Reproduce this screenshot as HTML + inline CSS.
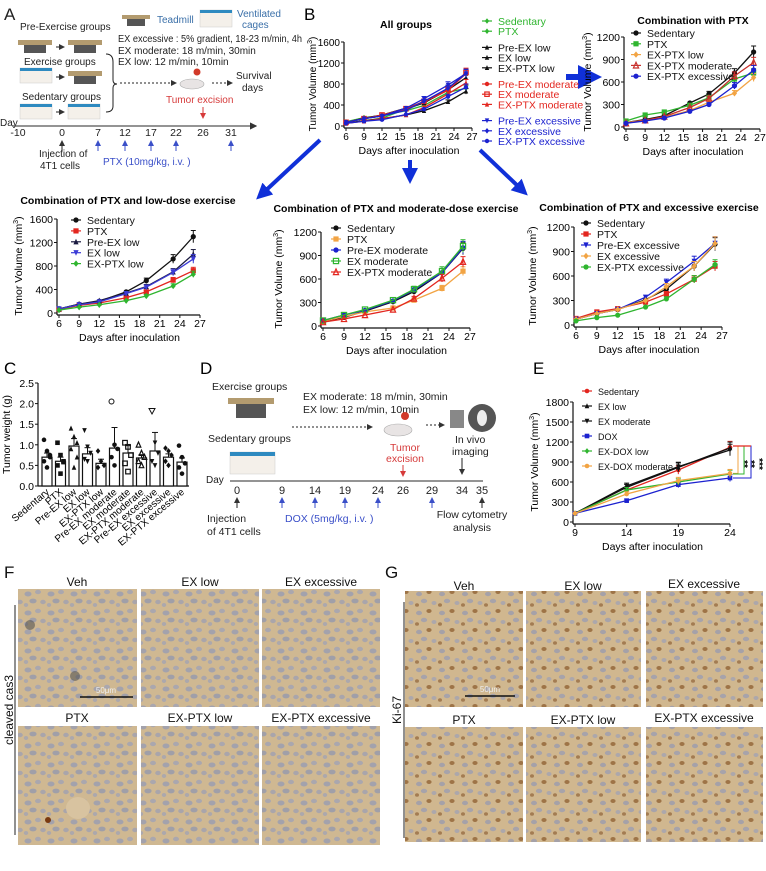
<!DOCTYPE html>
<html><head><meta charset="utf-8">
<style>
html,body{margin:0;padding:0;background:#fff;}
svg{display:block;font-family:"Liberation Sans",Arial,sans-serif;}
</style></head>
<body>
<svg id="fig" width="766" height="871" viewBox="0 0 766 871" xmlns="http://www.w3.org/2000/svg">
<defs>
<pattern id="cellsF" width="23" height="19" patternUnits="userSpaceOnUse">
<rect width="23" height="19" fill="#cfb892"/>
<ellipse cx="5" cy="5" rx="3.5" ry="2.5" fill="#a3a2ac"/>
<ellipse cx="15" cy="3" rx="3" ry="2.2" fill="#aaa7ae"/>
<ellipse cx="10" cy="12" rx="3.6" ry="2.4" fill="#a09fa8"/>
<ellipse cx="20" cy="13" rx="2.8" ry="2.2" fill="#a9a5ab"/>
<ellipse cx="3" cy="16" rx="2.2" ry="2" fill="#aca8ac"/>
</pattern>
<pattern id="cellsG" width="23" height="19" patternUnits="userSpaceOnUse">
<rect width="23" height="19" fill="#d0b78f"/>
<ellipse cx="5" cy="5" rx="3" ry="2.2" fill="#a5a1a8"/>
<ellipse cx="15" cy="3" rx="2.6" ry="2" fill="#9e7447"/>
<ellipse cx="10" cy="12" rx="3.2" ry="2.2" fill="#a7a3aa"/>
<ellipse cx="20" cy="14" rx="2.5" ry="2" fill="#aca7ab"/>
<ellipse cx="3" cy="16" rx="2" ry="1.8" fill="#a37c52"/>
</pattern>
<marker id="ah" markerWidth="6" markerHeight="6" refX="5" refY="3" orient="auto"><path d="M0,0 L6,3 L0,6 z" fill="#333"/></marker>
<marker id="ahB" markerWidth="6" markerHeight="6" refX="5" refY="3" orient="auto"><path d="M0,0 L6,3 L0,6 z" fill="#3a4fc8"/></marker>
<marker id="ahR" markerWidth="6" markerHeight="6" refX="5" refY="3" orient="auto"><path d="M0,0 L6,3 L0,6 z" fill="#d63a3a"/></marker>
<marker id="bigB" markerWidth="4" markerHeight="4" refX="2" refY="2" orient="auto"><path d="M0,0 L4,2 L0,4 z" fill="#1030d8"/></marker>
</defs>

<!-- ============ PANEL A ============ -->
<g font-size="10" fill="#222">
<text x="4" y="20" font-size="17">A</text>
<text x="20" y="30">Pre-Exercise groups</text>
<text x="24" y="65">Exercise groups</text>
<text x="22" y="100">Sedentary groups</text>
<g>
<rect x="18" y="40" width="34" height="5" fill="#b39b6f"/><rect x="24" y="45" width="22" height="8" fill="#555"/>
<rect x="68" y="40" width="34" height="5" fill="#b39b6f"/><rect x="74" y="45" width="22" height="8" fill="#555"/>
<rect x="68" y="71" width="34" height="5" fill="#b39b6f"/><rect x="74" y="76" width="22" height="8" fill="#555"/>
<rect x="122" y="15" width="28" height="4" fill="#b39b6f"/><rect x="127" y="19" width="18" height="7" fill="#555"/>
<rect x="228" y="398" width="46" height="6" fill="#b39b6f"/><rect x="236" y="404" width="30" height="14" fill="#555"/>
</g>
<g>
<rect x="20" y="68" width="32" height="15" fill="#f4f0ea" stroke="#ccc" stroke-width="0.5"/><rect x="20" y="68" width="32" height="3" fill="#2e8ac0"/>
<rect x="20" y="104" width="32" height="15" fill="#f4f0ea" stroke="#ccc" stroke-width="0.5"/><rect x="20" y="104" width="32" height="3" fill="#2e8ac0"/>
<rect x="68" y="104" width="32" height="15" fill="#f4f0ea" stroke="#ccc" stroke-width="0.5"/><rect x="68" y="104" width="32" height="3" fill="#2e8ac0"/>
<rect x="200" y="10" width="32" height="17" fill="#f4f0ea" stroke="#ccc" stroke-width="0.5"/><rect x="200" y="10" width="32" height="3" fill="#2e8ac0"/>
<rect x="230" y="452" width="45" height="22" fill="#f4f0ea" stroke="#ccc" stroke-width="0.5"/><rect x="230" y="452" width="45" height="4" fill="#2e8ac0"/>
</g>
<g stroke="#222" stroke-width="1" fill="none">
<line x1="56" y1="47" x2="64" y2="47" marker-end="url(#ah)"/>
<line x1="56" y1="77" x2="64" y2="77" marker-end="url(#ah)"/>
<line x1="56" y1="112" x2="64" y2="112" marker-end="url(#ah)"/>
<path d="M106,54 Q113,54 113,62 L113,80 Q113,84 117,84 Q113,84 113,88 L113,106 Q113,112 106,112"/>
<line x1="120" y1="83" x2="176" y2="83" stroke-dasharray="2,2" marker-end="url(#ah)"/>
<line x1="212" y1="83" x2="232" y2="83" stroke-dasharray="2,2" marker-end="url(#ah)"/>
</g>
<text x="157" y="23" fill="#3a6fa8">Teadmill</text>
<text x="237" y="17" fill="#3a6fa8">Ventilated</text>
<text x="242" y="28" fill="#3a6fa8">cages</text>
<text x="118" y="42" textLength="184" lengthAdjust="spacingAndGlyphs">EX excessive : 5% gradient, 18-23 m/min, 4h</text>
<text x="118" y="54">EX moderate: 18 m/min, 30min</text>
<text x="118" y="65">EX low: 12 m/min, 10min</text>
<g><ellipse cx="192" cy="84" rx="12" ry="5" fill="#e8e4e4" stroke="#aaa" stroke-width="0.6"/><circle cx="197" cy="72" r="3.5" fill="#d23a2a"/></g>
<text x="236" y="79">Survival</text>
<text x="242" y="91">days</text>
<text x="166" y="103" fill="#d63a3a">Tumor excision</text>
<line x1="203" y1="107" x2="203" y2="118" stroke="#d63a3a" marker-end="url(#ahR)"/>
<text x="0" y="126" font-size="10">Day</text>
<line x1="12" y1="126" x2="256" y2="126" stroke="#555" stroke-width="1.2" marker-end="url(#ah)"/>
<g font-size="10.5" text-anchor="middle">
<text x="18" y="136">-10</text><text x="62" y="136">0</text><text x="98" y="136">7</text><text x="125" y="136">12</text><text x="151" y="136">17</text><text x="176" y="136">22</text><text x="203" y="136">26</text><text x="231" y="136">31</text>
</g>
<g stroke-width="1">
<line x1="62" y1="151" x2="62" y2="141" stroke="#222" marker-end="url(#ah)"/>
<line x1="98" y1="151" x2="98" y2="141" stroke="#3a4fc8" marker-end="url(#ahB)"/>
<line x1="125" y1="151" x2="125" y2="141" stroke="#3a4fc8" marker-end="url(#ahB)"/>
<line x1="151" y1="151" x2="151" y2="141" stroke="#3a4fc8" marker-end="url(#ahB)"/>
<line x1="176" y1="151" x2="176" y2="141" stroke="#3a4fc8" marker-end="url(#ahB)"/>
<line x1="231" y1="151" x2="231" y2="141" stroke="#3a4fc8" marker-end="url(#ahB)"/>
</g>
<text x="39" y="157">Injection of</text>
<text x="40" y="169">4T1 cells</text>
<text x="103" y="165" fill="#3a4fc8">PTX (10mg/kg, i.v. )</text>
</g>

<text x="304" y="20" font-size="17">B</text>
<text x="4" y="374" font-size="17">C</text>
<text x="200" y="374" font-size="17">D</text>
<text x="533" y="374" font-size="17">E</text>

<g stroke="#1030d8" stroke-width="4">
<line x1="320" y1="140" x2="262" y2="194" marker-end="url(#bigB)"/>
<line x1="410" y1="160" x2="410" y2="176" marker-end="url(#bigB)"/>
<line x1="480" y1="150" x2="522" y2="190" marker-end="url(#bigB)"/>
<line x1="566" y1="77" x2="590" y2="77" stroke-width="6" marker-end="url(#bigB)"/>
</g>

<!-- ============ PANEL D ============ -->
<g font-size="10.5" fill="#222">
<text x="212" y="390">Exercise groups</text>
<text x="208" y="442">Sedentary groups</text>
<text x="303" y="400">EX moderate: 18 m/min, 30min</text>
<text x="303" y="413">EX low: 12 m/min, 10min</text>
<line x1="292" y1="427" x2="372" y2="427" stroke="#222" stroke-dasharray="2,2" marker-end="url(#ah)"/>
<ellipse cx="398" cy="430" rx="14" ry="6" fill="#e8e4e4" stroke="#aaa" stroke-width="0.6"/><circle cx="405" cy="416" r="4" fill="#d23a2a"/>
<line x1="426" y1="425" x2="444" y2="425" stroke="#222" stroke-dasharray="2,2" marker-end="url(#ah)"/>
<rect x="450" y="410" width="14" height="18" fill="#888"/>
<circle cx="482" cy="418" r="14" fill="#555"/><ellipse cx="482" cy="418" rx="5" ry="8" fill="#eee"/>
<text x="455" y="443">In vivo</text>
<text x="452" y="455">imaging</text>
<text x="405" y="451" fill="#d63a3a" text-anchor="middle">Tumor</text>
<text x="405" y="462" fill="#d63a3a" text-anchor="middle">excision</text>
<line x1="403" y1="465" x2="403" y2="476" stroke="#d63a3a" marker-end="url(#ahR)"/>
<line x1="462" y1="458" x2="462" y2="474" stroke="#222" marker-end="url(#ah)"/>
<text x="206" y="483" font-size="10">Day</text>
<line x1="230" y1="481" x2="483" y2="481" stroke="#555" stroke-width="1.2"/>
<g font-size="11" text-anchor="middle">
<text x="237" y="494">0</text><text x="282" y="494">9</text><text x="315" y="494">14</text><text x="345" y="494">19</text><text x="378" y="494">24</text><text x="403" y="494">26</text><text x="432" y="494">29</text><text x="462" y="494">34</text><text x="482" y="494">35</text>
</g>
<line x1="237" y1="508" x2="237" y2="498" stroke="#222" marker-end="url(#ah)"/>
<line x1="282" y1="508" x2="282" y2="498" stroke="#3a4fc8" marker-end="url(#ahB)"/>
<line x1="315" y1="508" x2="315" y2="498" stroke="#3a4fc8" marker-end="url(#ahB)"/>
<line x1="345" y1="508" x2="345" y2="498" stroke="#3a4fc8" marker-end="url(#ahB)"/>
<line x1="378" y1="508" x2="378" y2="498" stroke="#3a4fc8" marker-end="url(#ahB)"/>
<line x1="432" y1="508" x2="432" y2="498" stroke="#3a4fc8" marker-end="url(#ahB)"/>
<line x1="482" y1="508" x2="482" y2="498" stroke="#222" marker-end="url(#ah)"/>
<text x="207" y="522">Injection</text>
<text x="207" y="535">of 4T1 cells</text>
<text x="285" y="522" fill="#3a4fc8">DOX (5mg/kg, i.v. )</text>
<text x="472" y="518" text-anchor="middle">Flow cytometry</text>
<text x="472" y="531" text-anchor="middle">analysis</text>
</g>

<!-- ============ PANELS F/G ============ -->
<g font-size="12" fill="#111">
<text x="4" y="578" font-size="17">F</text>
<text x="77" y="586" text-anchor="middle">Veh</text><text x="200" y="586" text-anchor="middle">EX low</text><text x="321" y="586" text-anchor="middle">EX excessive</text>
<text x="77" y="722" text-anchor="middle">PTX</text><text x="200" y="722" text-anchor="middle">EX-PTX low</text><text x="321" y="722" text-anchor="middle">EX-PTX excessive</text>
<rect x="18" y="589" width="119" height="118" fill="url(#cellsF)"/>
<rect x="141" y="589" width="118" height="118" fill="url(#cellsF)"/>
<rect x="262" y="589" width="118" height="118" fill="url(#cellsF)"/>
<rect x="18" y="726" width="119" height="119" fill="url(#cellsF)"/>
<rect x="141" y="726" width="118" height="119" fill="url(#cellsF)"/>
<rect x="262" y="726" width="118" height="119" fill="url(#cellsF)"/>
<circle cx="30" cy="625" r="5" fill="#555" opacity="0.6"/><circle cx="75" cy="676" r="5" fill="#555" opacity="0.6"/>
<ellipse cx="78" cy="808" rx="12" ry="11" fill="#d8c3a0"/><circle cx="48" cy="820" r="3" fill="#7a3a10"/>
<line x1="80" y1="697" x2="133" y2="697" stroke="#111" stroke-width="1.5"/><text x="106" y="693" font-size="8" text-anchor="middle" fill="#eee">50μm</text>
<line x1="15" y1="605" x2="15" y2="835" stroke="#222"/>
<text transform="translate(13,710) rotate(-90)" text-anchor="middle" font-size="12">cleaved cas3</text>
</g>
<g font-size="12" fill="#111">
<text x="385" y="578" font-size="17">G</text>
<text x="464" y="590" text-anchor="middle">Veh</text><text x="583" y="590" text-anchor="middle">EX low</text><text x="704" y="588" text-anchor="middle">EX excessive</text>
<text x="464" y="724" text-anchor="middle">PTX</text><text x="583" y="724" text-anchor="middle">EX-PTX low</text><text x="704" y="722" text-anchor="middle">EX-PTX excessive</text>
<rect x="405" y="591" width="118" height="116" fill="url(#cellsG)"/>
<rect x="526" y="591" width="115" height="116" fill="url(#cellsG)"/>
<rect x="646" y="591" width="117" height="116" fill="url(#cellsG)"/>
<rect x="405" y="727" width="118" height="115" fill="url(#cellsG)"/>
<rect x="526" y="727" width="115" height="115" fill="url(#cellsG)"/>
<rect x="646" y="727" width="117" height="115" fill="url(#cellsG)"/>
<line x1="465" y1="696" x2="515" y2="696" stroke="#111" stroke-width="1.5"/><text x="490" y="692" font-size="8" text-anchor="middle" fill="#eee">50μm</text>
<line x1="404" y1="602" x2="404" y2="838" stroke="#222"/>
<text transform="translate(401,710) rotate(-90)" text-anchor="middle" font-size="12">Ki-67</text>
</g>

<g id="charts"></g>
</svg>

<script>
// ---------- data ----------
var days = [6, 9, 12, 16, 19, 23, 26];
var sedentary = [60, 100, 150, 320, 440, 720, 1000];
var ptx = [80, 160, 200, 290, 390, 640, 720];
var exPtxLow = [60, 90, 130, 220, 330, 450, 660];
var exPtxModerate = [50, 90, 140, 260, 380, 680, 860];
var exPtxExcessive = [50, 80, 120, 210, 300, 550, 760];

var lowSedentary = [70, 150, 200, 360, 550, 920, 1300];
var lowPtx = [60, 130, 170, 260, 360, 560, 720];
var preExLow = [70, 150, 210, 340, 450, 700, 1000];
var exLow = [70, 140, 190, 330, 440, 690, 920];
var lowExPtx = [50, 100, 140, 210, 290, 460, 660];

var modSedentary = [60, 110, 190, 310, 440, 680, 990];
var modPtx = [60, 120, 180, 230, 330, 480, 700];
var preExModerate = [70, 140, 200, 320, 460, 680, 1000];
var exModerate = [70, 140, 210, 330, 470, 700, 1020];
var modExPtx = [50, 90, 140, 210, 350, 610, 820];

var excSedentary = [70, 140, 190, 310, 440, 720, 990];
var excPtx = [80, 160, 200, 280, 380, 560, 720];
var preExExcessive = [70, 140, 190, 340, 520, 780, 1000];
var exExcessive = [70, 140, 190, 300, 470, 720, 1000];
var excExPtx = [50, 90, 120, 220, 320, 560, 740];

var eDays = [9, 14, 19, 24];
var eSedentary = [130, 480, 780, 1120];
var eExLow = [130, 520, 820, 1110];
var eExModerate = [130, 540, 830, 1080];
var eDox = [130, 320, 560, 660];
var eExDoxLow = [130, 480, 600, 720];
var eExDoxModerate = [130, 420, 620, 730];

var weightGroups = ["Sedentary", "PTX", "Pre-EX low", "EX low", "EX-PTX low", "Pre-EX moderate", "EX moderate", "EX-PTX moderate", "Pre-EX excessive", "EX excessive", "EX-PTX excessive"];
var weightMeans = [0.70, 0.60, 0.97, 0.78, 0.55, 0.92, 0.80, 0.68, 0.85, 0.70, 0.58];
var weightErr = [0.10, 0.10, 0.18, 0.15, 0.10, 0.50, 0.18, 0.08, 0.45, 0.08, 0.10];
var weightPoints = [
 [1.12, 0.85, 0.7, 0.6, 0.45, 0.75],
 [1.05, 0.75, 0.6, 0.5, 0.3, 0.58],
 [1.4, 1.2, 1.05, 0.9, 0.45, 0.7],
 [1.35, 0.95, 0.8, 0.65, 0.6],
 [0.85, 0.6, 0.5, 0.45],
 [2.05, 1.0, 0.9, 0.7, 0.5],
 [1.05, 0.95, 0.75, 0.55, 0.35],
 [1.0, 0.8, 0.7, 0.6, 0.5],
 [1.82, 1.05, 0.8, 0.6, 0.5],
 [0.92, 0.85, 0.75, 0.6, 0.5],
 [0.98, 0.7, 0.55, 0.45, 0.3]
];

var ticks1600 = [0, 400, 800, 1200, 1600];
var ticks1200 = [0, 300, 600, 900, 1200];
var ticks1800 = [0, 300, 600, 900, 1200, 1500, 1800];
var dayTicks = [6, 9, 12, 15, 18, 21, 24, 27];
var eDayTicks = [9, 14, 19, 24];
var weightTicks = [0.0, 0.5, 1.0, 1.5, 2.0, 2.5];

// ---------- drawing helpers ----------
var NS = "http://www.w3.org/2000/svg";
var root = document.getElementById("charts");
function mk(tag, attrs, parent) {
  var e = document.createElementNS(NS, tag);
  for (var k in attrs) e.setAttribute(k, attrs[k]);
  (parent || root).appendChild(e);
  return e;
}
function marker(g, shape, cx, cy, color, s) {
  s = s || 2.6;
  var m;
  if (shape === "circle") m = mk("circle", {cx: cx, cy: cy, r: s, fill: color}, g);
  else if (shape === "square") m = mk("rect", {x: cx - s, y: cy - s, width: 2 * s, height: 2 * s, fill: color}, g);
  else if (shape === "osquare") m = mk("rect", {x: cx - s, y: cy - s, width: 2 * s, height: 2 * s, fill: "none", stroke: color, "stroke-width": 1.2}, g);
  else if (shape === "tri") m = mk("path", {d: "M" + cx + "," + (cy - s - 0.5) + "L" + (cx + s) + "," + (cy + s) + "L" + (cx - s) + "," + (cy + s) + "Z", fill: color}, g);
  else if (shape === "otri") m = mk("path", {d: "M" + cx + "," + (cy - s - 0.5) + "L" + (cx + s) + "," + (cy + s) + "L" + (cx - s) + "," + (cy + s) + "Z", fill: "none", stroke: color, "stroke-width": 1.2}, g);
  else if (shape === "tridown") m = mk("path", {d: "M" + cx + "," + (cy + s + 0.5) + "L" + (cx + s) + "," + (cy - s) + "L" + (cx - s) + "," + (cy - s) + "Z", fill: color}, g);
  else m = mk("path", {d: "M" + cx + "," + (cy - s - 0.6) + "L" + (cx + s) + "," + cy + "L" + cx + "," + (cy + s + 0.6) + "L" + (cx - s) + "," + cy + "Z", fill: color}, g);
  
  
  return m;
}

function lineChart(c) {
  var g = mk("g", {});
  
  
  var tf = c.tickFont || 10.5;
  var sx = function (v) { return c.x0 + (v - c.xmin) / (c.xmax - c.xmin) * (c.x1 - c.x0); };
  var sy = function (v) { return c.y0 - (v - c.ymin) / (c.ymax - c.ymin) * (c.y0 - c.y1); };
  var ya = mk("line", {x1: c.x0 - 2, y1: c.y0 + 2, x2: c.x0 - 2, y2: c.y1, stroke: "#111", "stroke-width": 1.2}, g);
  
  
  var xa = mk("line", {x1: c.x0 - 2, y1: c.y0 + 2, x2: c.x1, y2: c.y0 + 2, stroke: "#111", "stroke-width": 1.2}, g);
  
  
  c.yticks.forEach(function (t) {
    mk("line", {x1: c.x0 - 5, y1: sy(t), x2: c.x0 - 2, y2: sy(t), stroke: "#111"}, g);
    var tl = mk("text", {x: c.x0 - 6, y: sy(t) + 4, "text-anchor": "end", "font-size": tf}, g);
    tl.textContent = t;
    
    
  });
  c.xticks.forEach(function (t) {
    mk("line", {x1: sx(t), y1: c.y0 + 2, x2: sx(t), y2: c.y0 + 5, stroke: "#111"}, g);
    var tl = mk("text", {x: sx(t), y: c.y0 + 14, "text-anchor": "middle", "font-size": tf}, g);
    tl.textContent = t;
    
    
  });
  var xt = mk("text", {x: (c.x0 + c.x1) / 2, y: c.y0 + 28, "text-anchor": "middle", "font-size": 10.5}, g);
  xt.textContent = "Days after inoculation";
  
  
  var yt = mk("text", {transform: "translate(" + c.ylabX + "," + (c.y0 + c.y1) / 2 + ") rotate(-90)", "text-anchor": "middle", "font-size": c.ylabFont || 10.5}, g);
  yt.innerHTML = 'Tumor Volume (mm<tspan dy="-4" font-size="7">3</tspan><tspan dy="4">)</tspan>';
  
  
  if (c.title) {
    var tt = mk("text", {x: c.titleX, y: c.titleY, "text-anchor": "middle", "font-size": 10.5, "font-weight": "bold"}, g);
    tt.textContent = c.title;
    
    
  }
  c.series.forEach(function (s, i) {
    var sg = mk("g", {}, g);
    
    
    var pts = s.values.map(function (v, j) { return sx(c.xs[j]) + "," + sy(v); }).join(" ");
    var pl = mk("polyline", {points: pts, fill: "none", stroke: s.color, "stroke-width": 1.3}, sg);
    
    
    s.values.forEach(function (v, j) {
      var e = v * 0.08;
      if (j >= c.xs.length - 3) mk("line", {x1: sx(c.xs[j]), y1: sy(v - e), x2: sx(c.xs[j]), y2: sy(v + e), stroke: s.color, "stroke-width": 1}, sg);
      if (j >= c.xs.length - 3) mk("line", {x1: sx(c.xs[j]) - 2.5, y1: sy(v + e), x2: sx(c.xs[j]) + 2.5, y2: sy(v + e), stroke: s.color, "stroke-width": 1}, sg);
      marker(sg, s.shape, sx(c.xs[j]), sy(v), s.color, c.ms);
    });
    if (c.legX !== undefined) {
      var ly = c.legY + i * c.legDy + (c.legGaps ? c.legGaps[i] : 0);
      var le = mk("g", {}, g);
      
      
      mk("line", {x1: c.legX - 5, y1: ly, x2: c.legX + 5, y2: ly, stroke: s.color, "stroke-width": 1.2}, le);
      marker(le, s.shape, c.legX, ly, s.color, c.ms);
      var lt = mk("text", {x: c.legX + 11, y: ly + 4, "font-size": c.legFont || 11, fill: c.legColored ? s.color : "#111"}, le);
      lt.textContent = s.label;
    }
  });
  return {g: g, sx: sx, sy: sy};
}

var BLK = "#111", RED = "#e3261f", BLU = "#1c22cf", GRN = "#2fb52f", ORG = "#f2a444", DRD = "#c8302c";

lineChart({name: "all-groups-chart", x0: 346, x1: 472, y0: 126, y1: 42, xmin: 6, xmax: 27, ymin: 0, ymax: 1600,
  xs: days, xticks: dayTicks, yticks: ticks1600, ylabX: 316, ylabFont: 10, tickFont: 10, title: "All groups", titleX: 406, titleY: 28, ms: 2.2,
  legX: 487, legY: 21, legDy: 10.2, legGaps: [0, 0, 6, 6, 6, 12, 12, 12, 18, 18, 18], legColored: true, legFont: 10.5,
  series: [
    {label: "Sedentary", values: sedentary, color: GRN, shape: "diamond"},
    {label: "PTX", values: ptx, color: GRN, shape: "diamond"},
    {label: "Pre-EX low", values: preExLow, color: BLK, shape: "tri"},
    {label: "EX low", values: exLow, color: BLK, shape: "tri"},
    {label: "EX-PTX low", values: lowExPtx, color: BLK, shape: "tri"},
    {label: "Pre-EX moderate", values: preExModerate, color: RED, shape: "circle"},
    {label: "EX moderate", values: exModerate, color: RED, shape: "osquare"},
    {label: "EX-PTX moderate", values: modExPtx, color: RED, shape: "tri"},
    {label: "Pre-EX excessive", values: preExExcessive, color: BLU, shape: "tridown"},
    {label: "EX excessive", values: exExcessive, color: BLU, shape: "diamond"},
    {label: "EX-PTX excessive", values: excExPtx, color: BLU, shape: "circle"}
  ]});

lineChart({name: "combination-with-ptx-chart", x0: 626, x1: 760, y0: 127, y1: 37, xmin: 6, xmax: 27, ymin: 0, ymax: 1200,
  xs: days, xticks: dayTicks, yticks: ticks1200, ylabX: 591, title: "Combination with PTX", titleX: 693, titleY: 24, ms: 2.6,
  legX: 636, legY: 33, legDy: 10.8, legFont: 10.5,
  series: [
    {label: "Sedentary", values: sedentary, color: BLK, shape: "circle"},
    {label: "PTX", values: ptx, color: GRN, shape: "square"},
    {label: "EX-PTX low", values: exPtxLow, color: ORG, shape: "diamond"},
    {label: "EX-PTX moderate", values: exPtxModerate, color: DRD, shape: "otri"},
    {label: "EX-PTX excessive", values: exPtxExcessive, color: BLU, shape: "circle"}
  ]});

lineChart({name: "low-dose-exercise-chart", x0: 59, x1: 200, y0: 313, y1: 219, xmin: 6, xmax: 27, ymin: 0, ymax: 1600,
  xs: days, xticks: dayTicks, yticks: ticks1600, ylabX: 22, title: "Combination of PTX and low-dose exercise", titleX: 128, titleY: 204, ms: 2.6,
  legX: 76, legY: 220, legDy: 10.9, legFont: 10.5,
  series: [
    {label: "Sedentary", values: lowSedentary, color: BLK, shape: "circle"},
    {label: "PTX", values: lowPtx, color: RED, shape: "square"},
    {label: "Pre-EX low", values: preExLow, color: "#1a1a40", shape: "tri"},
    {label: "EX low", values: exLow, color: "#3b3bd6", shape: "tridown"},
    {label: "EX-PTX low", values: lowExPtx, color: GRN, shape: "diamond"}
  ]});

lineChart({name: "moderate-dose-exercise-chart", x0: 323, x1: 470, y0: 326, y1: 232, xmin: 6, xmax: 27, ymin: 0, ymax: 1200,
  xs: days, xticks: dayTicks, yticks: ticks1200, ylabX: 282, title: "Combination of PTX and moderate-dose exercise", titleX: 396, titleY: 212, ms: 2.6,
  legX: 336, legY: 228, legDy: 11, legFont: 10.5,
  series: [
    {label: "Sedentary", values: modSedentary, color: BLK, shape: "circle"},
    {label: "PTX", values: modPtx, color: ORG, shape: "square"},
    {label: "Pre-EX moderate", values: preExModerate, color: BLU, shape: "circle"},
    {label: "EX moderate", values: exModerate, color: GRN, shape: "osquare"},
    {label: "EX-PTX moderate", values: modExPtx, color: RED, shape: "otri"}
  ]});

lineChart({name: "excessive-exercise-chart", x0: 576, x1: 722, y0: 325, y1: 227, xmin: 6, xmax: 27, ymin: 0, ymax: 1200,
  xs: days, xticks: dayTicks, yticks: ticks1200, ylabX: 536, title: "Combination of PTX and excessive exercise", titleX: 649, titleY: 211, ms: 2.6,
  legX: 586, legY: 223, legDy: 11, legFont: 10.5,
  series: [
    {label: "Sedentary", values: excSedentary, color: BLK, shape: "circle"},
    {label: "PTX", values: excPtx, color: RED, shape: "square"},
    {label: "Pre-EX excessive", values: preExExcessive, color: BLU, shape: "tridown"},
    {label: "EX excessive", values: exExcessive, color: ORG, shape: "diamond"},
    {label: "EX-PTX excessive", values: excExPtx, color: GRN, shape: "circle"}
  ]});

var eChart = lineChart({name: "dox-tumor-volume-chart", x0: 575, x1: 730, y0: 522, y1: 402, xmin: 9, xmax: 24, ymin: 0, ymax: 1800,
  xs: eDays, xticks: eDayTicks, yticks: ticks1800, ylabX: 538, ms: 2.3,
  legX: 587, legY: 391, legDy: 15, legFont: 9,
  series: [
    {label: "Sedentary", values: eSedentary, color: RED, shape: "circle"},
    {label: "EX low", values: eExLow, color: BLK, shape: "tri"},
    {label: "EX moderate", values: eExModerate, color: BLK, shape: "tridown"},
    {label: "DOX", values: eDox, color: BLU, shape: "square"},
    {label: "EX-DOX low", values: eExDoxLow, color: GRN, shape: "diamond"},
    {label: "EX-DOX moderate", values: eExDoxModerate, color: ORG, shape: "circle"}
  ]});
(function () {
  var g = mk("g", {});
  
  
  var top = eChart.sy(1140);
  var br = [[eExDoxModerate, ORG, 738], [eExDoxLow, GRN, 744], [eDox, BLU, 751]];
  br.forEach(function (b) {
    var yb = eChart.sy(b[0][b[0].length - 1]);
    mk("path", {d: "M733," + top + "H" + b[2] + "V" + yb + "H733", fill: "none", stroke: b[1], "stroke-width": 1}, g);
  });
  mk("path", {d: "M733," + top + "H751", stroke: RED, "stroke-width": 1.2}, g);
  [[741, "**"], [748, "**"], [756, "***"]].forEach(function (s) {
    var t = mk("text", {transform: "translate(" + s[0] + "," + (top + 18) + ") rotate(90)", "font-size": 10, "font-weight": "bold", "text-anchor": "middle"}, g);
    t.textContent = s[1];
  });
})();

(function () {
  var g = mk("g", {});
  
  
  var x0 = 40, step = 13.5, first = 47, bw = 10, y0 = 486, y1 = 383, ymax = 2.5;
  var sy = function (v) { return y0 - v / ymax * (y0 - y1); };
  var bx = function (i) { return first + i * step; };
  mk("line", {x1: x0 - 2, y1: y0, x2: x0 - 2, y2: y1, stroke: "#111", "stroke-width": 1.2}, g);
  mk("line", {x1: x0 - 2, y1: y0, x2: 189, y2: y0, stroke: "#111", "stroke-width": 1.2}, g);
  weightTicks.forEach(function (t) {
    mk("line", {x1: x0 - 5, y1: sy(t), x2: x0 - 2, y2: sy(t), stroke: "#111"}, g);
    var tl = mk("text", {x: x0 - 6, y: sy(t) + 4, "text-anchor": "end", "font-size": 10.5}, g);
    tl.textContent = t.toFixed(1);
    
    
  });
  var yt = mk("text", {transform: "translate(10," + (y0 + y1) / 2 + ") rotate(-90)", "text-anchor": "middle", "font-size": 10.5}, g);
  yt.textContent = "Tumor weight (g)";
  
  
  var shapes = ["circle", "square", "tri", "tridown", "diamond", "circle", "osquare", "otri", "tridown", "diamond", "circle"];
  weightGroups.forEach(function (name, i) {
    var cx = bx(i), m = weightMeans[i], e = weightErr[i];
    var bar = mk("rect", {x: cx - bw / 2, y: sy(m), width: bw, height: y0 - sy(m), fill: "#fff", stroke: "#111", "stroke-width": 1.2}, g);
    
    
    mk("line", {x1: cx, y1: sy(m), x2: cx, y2: sy(m + e), stroke: "#111"}, g);
    mk("line", {x1: cx - 3, y1: sy(m + e), x2: cx + 3, y2: sy(m + e), stroke: "#111"}, g);
    weightPoints[i].forEach(function (p, k) {
      var sh = shapes[i];
      if (i === 5 && k === 0) sh = "ocircle";
      if (i === 8 && k === 0) sh = "otridown";
      var px = cx + ((k % 3) - 1) * 3;
      if (sh === "ocircle") { var oc = mk("circle", {cx: px, cy: sy(p), r: 2.5, fill: "none", stroke: "#111"}, g);   }
      else if (sh === "otridown") { var ot = mk("path", {d: "M" + px + "," + (sy(p) + 3) + "L" + (px + 3) + "," + (sy(p) - 2.5) + "L" + (px - 3) + "," + (sy(p) - 2.5) + "Z", fill: "none", stroke: "#111"}, g);   }
      else marker(g, sh, px, sy(p), "#111", 2.3);
    });
    var lb = mk("text", {transform: "translate(" + (cx + 3) + "," + (y0 + 7) + ") rotate(-40)", "text-anchor": "end", "font-size": 10}, g);
    lb.textContent = name;
    
    
  });
})();
</script>
</body></html>
